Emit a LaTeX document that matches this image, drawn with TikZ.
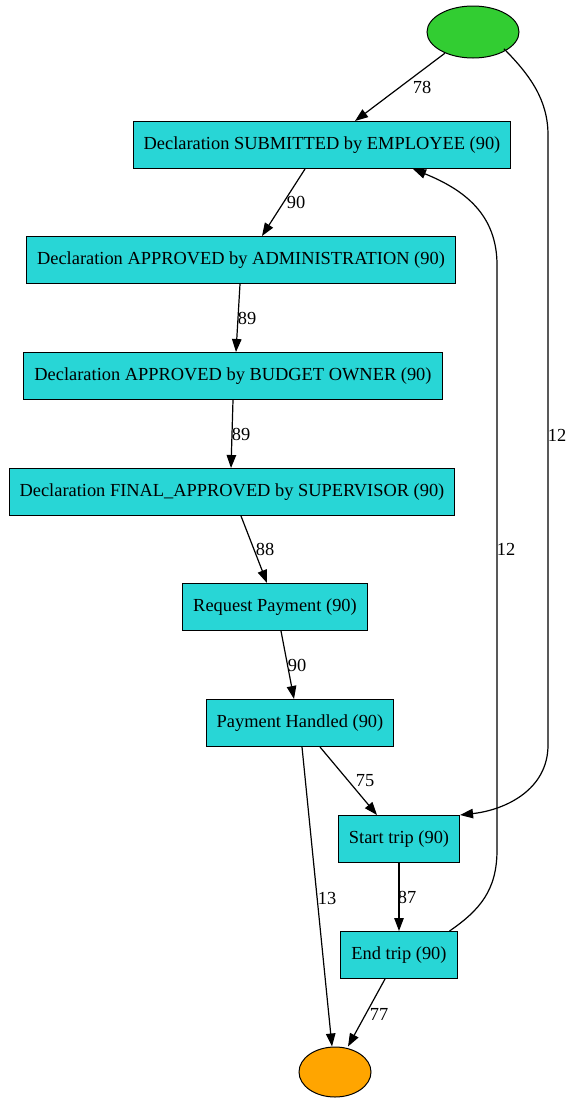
\documentclass[tikz,border=0pt]{standalone}
\usepackage{fontspec}
\setmainfont{Liberation Serif}
\usetikzlibrary{arrows.meta,shapes.geometric}
\definecolor{actcyan}{RGB}{40,214,214}
\definecolor{startgreen}{RGB}{50,205,50}
\definecolor{endorange}{RGB}{255,165,0}
\tikzset{
  act/.style={draw,line width=1pt,fill=actcyan,rectangle,minimum height=47pt,inner xsep=10.5pt,font=\fontsize{18.4}{22}\selectfont},
  lbl/.style={inner sep=0pt,font=\fontsize{18.4}{22}\selectfont},
  flow/.style={-{Triangle[length=13pt,width=9.5pt]},line width=1.2pt}
}
\begin{document}
\begin{tikzpicture}[x=1pt,y=-1pt]
    \useasboundingbox (0,0) rectangle (573,1103);
    % Start and end
    \node[draw,line width=1pt,ellipse,fill=startgreen,minimum width=92pt,minimum height=52pt] (start) at (473,32) {};
    \node[draw,line width=1pt,ellipse,fill=endorange,minimum width=72pt,minimum height=50pt] (end) at (335,1072) {};
    % Activities
    \node[act] (submitted) at (322,145) {Declaration SUBMITTED by EMPLOYEE (90)};
    \node[act] (admin) at (241,260) {Declaration APPROVED by ADMINISTRATION (90)};
    \node[act] (budget) at (233,376) {Declaration APPROVED by BUDGET OWNER (90)};
    \node[act] (final) at (232,492) {Declaration FINAL\_APPROVED by SUPERVISOR (90)};
    \node[act] (request) at (275,607) {Request Payment (90)};
    \node[act] (handled) at (300,723) {Payment Handled (90)};
    \node[act] (starttrip) at (399,839) {Start trip (90)};
    \node[act] (endtrip) at (399,955) {End trip (90)};
    % Flows
    \draw[flow] (start) -- (submitted.north -| 355,0);
    \draw[flow] (submitted.south -| 305,0) -- (admin.north -| 262,0);
    \draw[flow] (admin.south -| 240,0) -- (budget.north -| 236,0);
    \draw[flow] (budget.south -| 233,0) -- (final.north -| 231,0);
    \draw[flow] (final.south -| 241,0) -- (request.north -| 267,0);
    \draw[flow] (request.south -| 281,0) -- (handled.north -| 294,0);
    \draw[flow] (handled.south -| 320,0) -- (starttrip.north -| 377,0);
    \draw[flow] (starttrip) -- (endtrip);
    \draw[flow] (endtrip.south -| 385,0) -- (end.north -| 348,0);
    \draw[flow] (handled.south -| 302,0) -- (end.north -| 332,0);
    \draw[flow] (start.south east) ++(-2,-2) coordinate (s1)
         .. controls (530,75) and (548,100) .. (548,135) -- (548,745)
         .. controls (548,790) and (505,810) .. (starttrip.north east);
    \draw[flow] (endtrip.north east) ++(-8,0) coordinate (e1)
         .. controls (480,910) and (497,890) .. (497,850) -- (497,265)
         .. controls (497,215) and (465,190) .. (submitted.south -| 413,0);
    % Flow counts
    \node[lbl] (c78) at (422,87) {78};
    \node[lbl] (c90a) at (296,202) {90};
    \node[lbl] (c89a) at (247,318) {89};
    \node[lbl] (c89b) at (241,434) {89};
    \node[lbl] (c88) at (265,549) {88};
    \node[lbl] (c90b) at (297,665) {90};
    \node[lbl] (c75) at (365,781) {75};
    \node[lbl] (c87) at (407,897) {87};
    \node[lbl] (c77) at (379,1014) {77};
    \node[lbl] (c13) at (327,898) {13};
    \node[lbl] (c12a) at (557,435) {12};
    \node[lbl] (c12b) at (506,549) {12};
\end{tikzpicture}
\end{document}
